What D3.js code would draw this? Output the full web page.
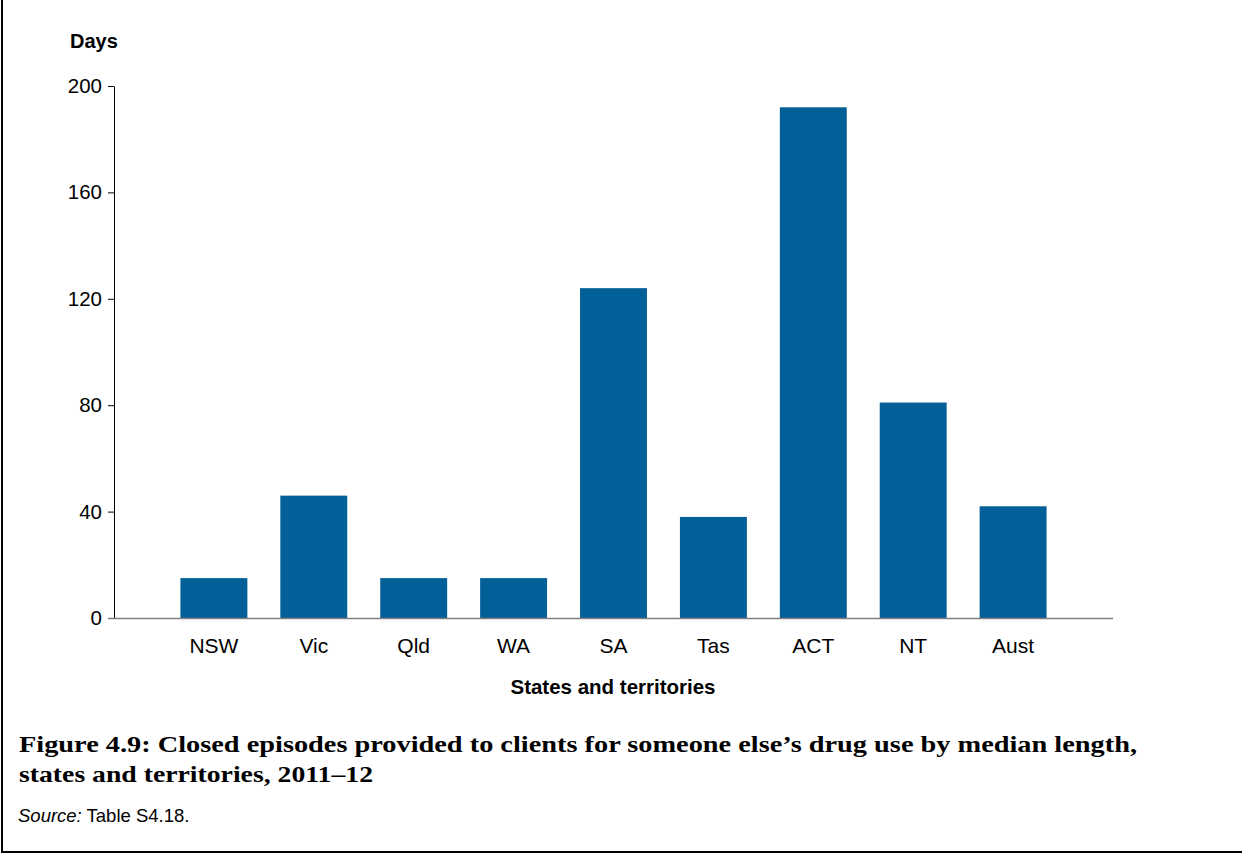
<!DOCTYPE html>
<html>
<head>
<meta charset="utf-8">
<script src="https://cdn.jsdelivr.net/npm/d3@7"></script>
<style>
  html, body { margin: 0; padding: 0; background: #fff; }
  svg { display: block; }
</style>
</head>
<body>
<svg id="chart" width="1242" height="854"></svg>
<script>
const categories = ["NSW", "Vic", "Qld", "WA", "SA", "Tas", "ACT", "NT", "Aust"];
const values = [15, 46, 15, 15, 124, 38, 192, 81, 42];
const yTicks = [0, 40, 80, 120, 160, 200];
const yLabel = "Days";
const xLabel = "States and territories";
const captionLines = ["Figure 4.9: Closed episodes provided to clients for someone else\u2019s drug use by median length,", "states and territories, 2011\u201312"];

const svg = d3.select("#chart");
const plotLeft = 114, plotRight = 1113, plotTop = 86, plotBottom = 618;
const sans = "Liberation Sans, Arial, sans-serif";

const x = d3.scaleBand().domain(categories).range([plotLeft, plotRight]).paddingInner(0.33).paddingOuter(0.665);
const y = d3.scaleLinear().domain([0, 200]).range([plotBottom, plotTop]);

// frame (left and bottom)
svg.append("line").attr("x1", 2).attr("x2", 2).attr("y1", 0).attr("y2", 853).attr("stroke", "#000").attr("stroke-width", 2);
svg.append("line").attr("x1", 1).attr("x2", 1242).attr("y1", 852).attr("y2", 852).attr("stroke", "#000").attr("stroke-width", 2);

// bars
svg.append("g").selectAll("rect").data(values).join("rect")
  .attr("x", (d, i) => x(categories[i]))
  .attr("y", d => y(d))
  .attr("width", x.bandwidth())
  .attr("height", d => y(0) - y(d))
  .attr("fill", "#035f97");

// y axis
const yAxis = svg.append("g").attr("transform", `translate(${plotLeft},0)`)
  .call(d3.axisLeft(y).tickValues(yTicks).tickSize(6).tickPadding(6).tickSizeOuter(0));
yAxis.select(".domain").attr("stroke", "#000").attr("stroke-width", 1);
yAxis.selectAll(".tick line").attr("stroke", "#000");
yAxis.selectAll(".tick text").attr("font-family", sans).attr("font-size", 20.5).attr("fill", "#000");

// x axis
const xAxis = svg.append("g").attr("transform", `translate(0,${plotBottom})`)
  .call(d3.axisBottom(x).tickSize(0).tickPadding(20));
xAxis.select(".domain").remove();
svg.append("line").attr("x1", 108).attr("x2", plotRight).attr("y1", plotBottom + 0.5).attr("y2", plotBottom + 0.5)
  .attr("stroke", "#808080").attr("stroke-width", 1.5);
xAxis.selectAll(".tick text").attr("font-family", sans).attr("font-size", 21).attr("fill", "#000");

// axis titles
svg.append("text").attr("x", 70).attr("y", 48).text(yLabel)
  .attr("font-family", sans).attr("font-weight", "bold").attr("font-size", 20);
svg.append("text").attr("x", 613).attr("y", 694).attr("text-anchor", "middle").text(xLabel)
  .attr("font-family", sans).attr("font-weight", "bold").attr("font-size", 20.5);

// caption
const capLens = [1118, 354];
captionLines.forEach((t, i) => {
  svg.append("text").attr("x", 19).attr("y", 752 + i * 30).text(t)
    .attr("font-family", "Liberation Serif, Times New Roman, serif").attr("font-weight", "bold").attr("font-size", 24)
    .attr("textLength", capLens[i]).attr("lengthAdjust", "spacingAndGlyphs");
});

const src = svg.append("text").attr("x", 18).attr("y", 822)
  .attr("font-family", sans).attr("font-size", 18.5);
src.append("tspan").attr("font-style", "italic").text("Source:");
src.append("tspan").text(" Table S4.18.");
</script>
</body>
</html>
